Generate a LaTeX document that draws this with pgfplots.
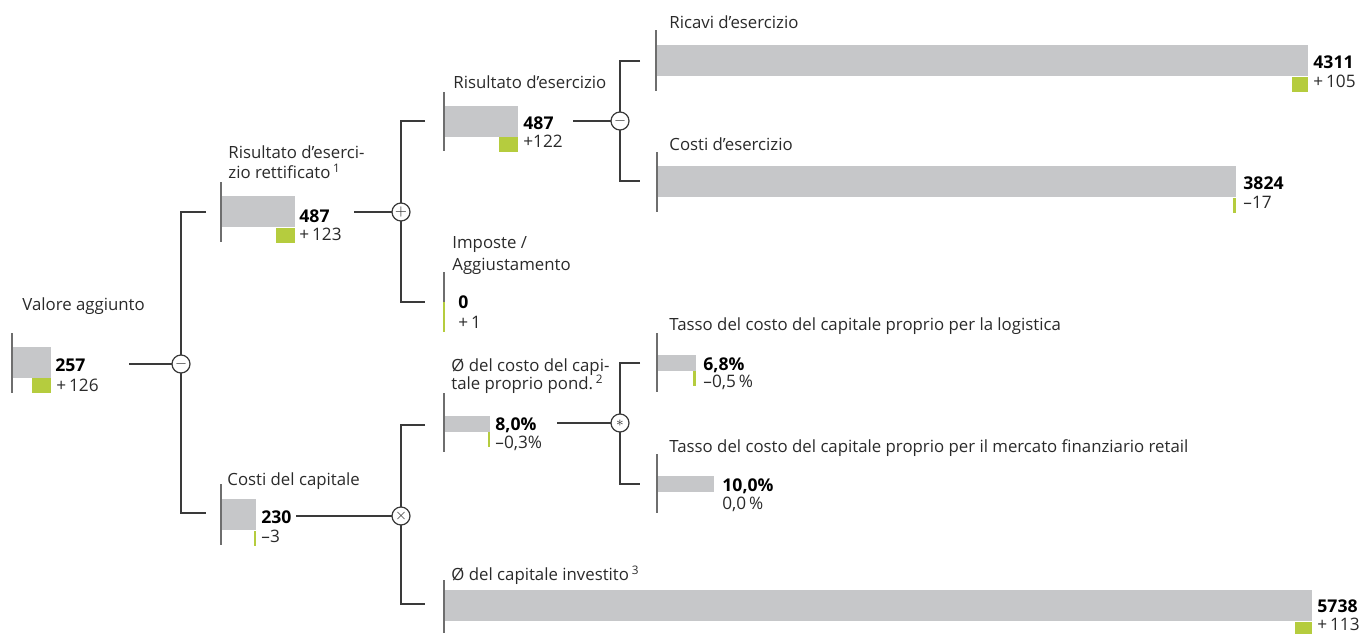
\documentclass[border=0pt]{standalone}
\usepackage{pgfplots}
\pgfplotsset{compat=1.18}
\usepackage{pgfplotstable}
\usepackage{fontspec}
\setmainfont{Open Sans}
\definecolor{barGray}{HTML}{C6C7C9}
\definecolor{dGreen}{HTML}{B5CC3E}
\definecolor{lineC}{HTML}{3A3A3A}
\definecolor{axC}{HTML}{6E6E6E}
\definecolor{txt}{HTML}{2A2A2A}
\newcommand\lab{\fontsize{8.4}{10}\selectfont\color{txt}}
\newcommand\num{\fontsize{8.8}{10}\selectfont\bfseries\color{black}}
\newcommand\dlt{\fontsize{8.6}{10}\selectfont\color{txt}}

% absolute values: x0 = start of bar (px), y = bar centre (px)
\pgfplotstableread{
x0  y      val   d
12  362    257   126
221 211.5  487   123
444 121    487   122
656 60.5   4311  105
657 181.5  3824  -17
221 514.5  230   -3
444 605.5  5738  113
}\absdata
% percentage values
\pgfplotstableread{
x0  y      val   d
444 424    8.0   -0.3
657 362.5  6.8   -0.5
657 484    10.0  0.0
}\pctdata
% zero value (taxes / adjustment)
\pgfplotstableread{
x0  y    val  d
444 317  0    1
}\zerodata

\begin{document}
\begin{tikzpicture}
\begin{axis}[x=0.5pt, y=0.5pt, y dir=reverse,
  xmin=0, xmax=1362, ymin=0, ymax=633,
  hide axis, clip=false, scale only axis]
\coordinate (tl) at (axis cs:0,0);
\coordinate (br) at (axis cs:1362,633);

% brackets and connectors
\begin{scope}[draw=lineC, line width=0.6pt]
\draw (axis cs:129,364) -- (axis cs:172,364);
\draw (axis cs:206,212) -- (axis cs:181,212) -- (axis cs:181,513) -- (axis cs:206,513);
\draw (axis cs:354,212) -- (axis cs:393,212);
\draw (axis cs:425,121) -- (axis cs:401,121) -- (axis cs:401,302) -- (axis cs:425,302);
\draw (axis cs:573,121) -- (axis cs:611,121);
\draw (axis cs:640,61) -- (axis cs:620,61) -- (axis cs:620,181) -- (axis cs:640,181);
\draw (axis cs:296,516) -- (axis cs:393,516);
\draw (axis cs:425,425) -- (axis cs:401,425) -- (axis cs:401,604) -- (axis cs:425,604);
\draw (axis cs:557,423) -- (axis cs:611,423);
\draw (axis cs:640,363) -- (axis cs:620,363) -- (axis cs:620,484) -- (axis cs:640,484);
\end{scope}
\begin{scope}[every node/.style={circle, draw=lineC, line width=0.6pt, fill=white, minimum size=9pt, inner sep=0pt, text=lineC}]
\node at (axis cs:181,364) {\fontsize{7}{7}\selectfont$-$};
\node at (axis cs:401,212) {\fontsize{7}{7}\selectfont$+$};
\node at (axis cs:620,121) {\fontsize{7}{7}\selectfont$-$};
\node at (axis cs:401,516) {\fontsize{7}{7}\selectfont$\times$};
\node at (axis cs:620,423) {\fontsize{7.5}{7}\selectfont$\ast$};
\end{scope}

% gray bars (6.61 units per px)
\addplot[draw=barGray, line width=15.5pt, mark=none,
  quiver={u={\thisrow{val}/6.61}, v=0}]
  table[x=x0, y=y] {\absdata};
% green deltas, right-aligned at the bar end
\addplot[draw=dGreen, line width=7.5pt, mark=none,
  quiver={u={max(abs(\thisrow{d})/6.61,1.6)}, v=0}]
  table[x expr={\thisrow{x0}+\thisrow{val}/6.61-max(abs(\thisrow{d})/6.61,1.6)}, y expr={\thisrow{y}+23.5}] {\absdata};
% percentage bars (5.7 px per %)
\addplot[draw=barGray, line width=8pt, mark=none,
  quiver={u={\thisrow{val}*5.7}, v=0}]
  table[x=x0, y=y] {\pctdata};
\addplot[draw=dGreen, line width=7.5pt, mark=none,
  quiver={u={(abs(\thisrow{d})>0 ? max(abs(\thisrow{d})*5.7,1.6) : 0)}, v=0}]
  table[x expr={\thisrow{x0}+\thisrow{val}*5.7-(abs(\thisrow{d})>0 ? max(abs(\thisrow{d})*5.7,1.6) : 0)}, y expr={\thisrow{y}+15.5}] {\pctdata};
% zero value
\addplot[draw=dGreen, line width=15pt, mark=none,
  quiver={u={max(abs(\thisrow{d})/6.61,1.6)}, v=0}]
  table[x expr={\thisrow{x0}+\thisrow{val}/6.61-max(abs(\thisrow{d})/6.61,1.6)+0.8}, y=y] {\zerodata};

% node base lines
\begin{scope}[draw=axC, line width=0.75pt]
\draw (axis cs:12,333) -- (axis cs:12,393);
\draw (axis cs:221,182) -- (axis cs:221,242);
\draw (axis cs:444,92) -- (axis cs:444,151);
\draw (axis cs:656,30) -- (axis cs:656,91);
\draw (axis cs:657,152) -- (axis cs:657,212);
\draw (axis cs:444,272) -- (axis cs:444,302);
\draw (axis cs:221,484) -- (axis cs:221,545);
\draw (axis cs:444,393) -- (axis cs:444,452);
\draw (axis cs:657,333) -- (axis cs:657,392);
\draw (axis cs:657,454) -- (axis cs:657,513);
\draw (axis cs:444,580) -- (axis cs:444,633);
\end{scope}

% texts
\begin{scope}[every node/.style={anchor=base west, inner sep=0pt}]
\node at (axis cs:22,310) {\lab Valore aggiunto};
\node at (axis cs:55,371) {\num 257};
\node at (axis cs:56,391) {\dlt +\,126};

\node at (axis cs:228,158) {\lab Risultato d’eserci-};
\node at (axis cs:228,178) {\lab zio rettificato\,\textsuperscript{1}};
\node at (axis cs:299,222) {\num 487};
\node at (axis cs:299,240) {\dlt +\,123};

\node at (axis cs:453,88) {\lab Risultato d’esercizio};
\node at (axis cs:523,129) {\num 487};
\node at (axis cs:523,147) {\dlt +122};

\node at (axis cs:669,28) {\lab Ricavi d’esercizio};
\node at (axis cs:1313,68) {\num 4311};
\node at (axis cs:1313,87) {\dlt +\,105};

\node at (axis cs:669,150) {\lab Costi d’esercizio};
\node at (axis cs:1243,189) {\num 3824};
\node at (axis cs:1243,208) {\dlt –17};

\node at (axis cs:452,248) {\lab Imposte /};
\node at (axis cs:452,270) {\lab Aggiustamento};
\node at (axis cs:458,308) {\num 0};
\node at (axis cs:458,328) {\dlt +\,1};

\node at (axis cs:227,485) {\lab Costi del capitale};
\node at (axis cs:261,523) {\num 230};
\node at (axis cs:261,542) {\dlt –3};

\node at (axis cs:451,371) {\lab Ø del costo del capi-};
\node at (axis cs:451,389) {\lab tale proprio pond.\,\textsuperscript{2}};
\node at (axis cs:495,430) {\num 8,0\%};
\node at (axis cs:495,448) {\dlt –0,3\%};

\node at (axis cs:669,330) {\lab Tasso del costo del capitale proprio per la logistica};
\node at (axis cs:703,370) {\num 6,8\%};
\node at (axis cs:703,387) {\dlt –0,5\,\%};

\node at (axis cs:669,452) {\lab Tasso del costo del capitale proprio per il mercato finanziario retail};
\node at (axis cs:722,491) {\num 10,0\%};
\node at (axis cs:722,509) {\dlt 0,0\,\%};

\node at (axis cs:451,580) {\lab Ø del capitale investito\,\textsuperscript{3}};
\node at (axis cs:1317,612) {\num 5738};
\node at (axis cs:1317,630) {\dlt +\,113};
\end{scope}
\end{axis}
\pgfresetboundingbox
\useasboundingbox (tl) rectangle (br);
\end{tikzpicture}
\end{document}
